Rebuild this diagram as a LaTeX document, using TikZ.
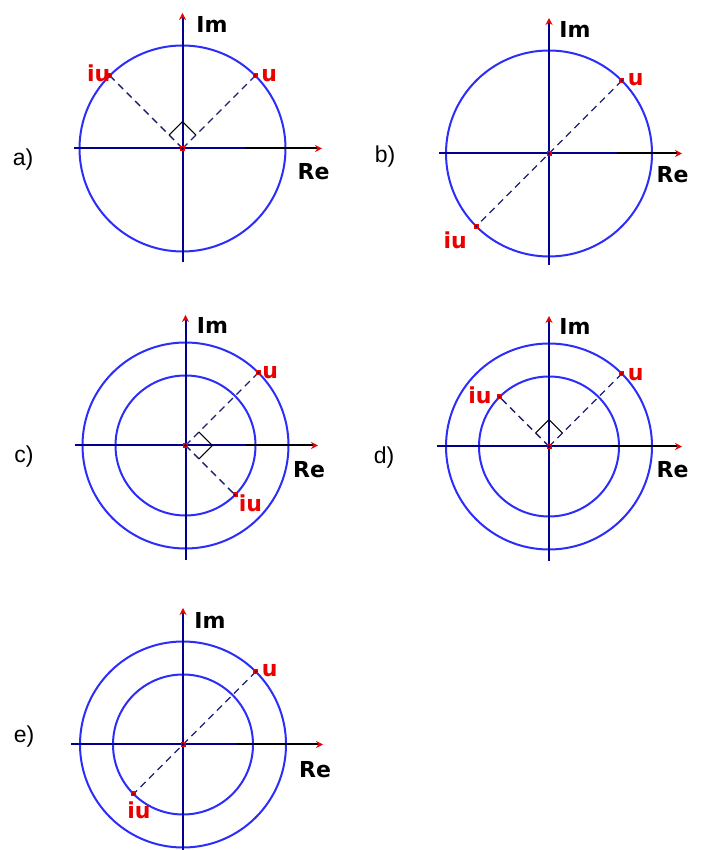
\documentclass[tikz,border=0pt]{standalone}
\usepackage{fontspec}
\setmainfont{Liberation Sans}
\newfontfamily\lblfont{DejaVu Sans}
\usetikzlibrary{arrows.meta}
\definecolor{axnavy}{RGB}{0,0,140}
\definecolor{cblue}{RGB}{45,45,250}
\definecolor{lred}{RGB}{235,0,0}
\definecolor{vecnavy}{RGB}{30,30,110}
\tikzset{
  ring/.style={draw=cblue, line width=2pt},
  axisn/.style={draw=axnavy, line width=2pt},
  axisk/.style={draw=black, line width=2pt, -{Stealth[length=7pt,width=7pt,color=lred]}},
  axisv/.style={draw=axnavy, line width=2pt, -{Stealth[length=7pt,width=7pt,color=lred]}},
  vec/.style={draw=vecnavy, line width=1.4pt, dash pattern=on 7pt off 5pt},
  rightang/.style={draw=black, line width=1.2pt},
  ptbox/.style={rectangle, fill=lred, minimum size=5pt, inner sep=0pt,
    path picture={\fill[axnavy] (path picture bounding box.center) circle (1.1pt);}},
  ctr/.style={rectangle, fill=lred, minimum size=5pt, inner sep=0pt,
    path picture={\fill[axnavy] (path picture bounding box.center) circle (1.7pt);}},
  axlbl/.style={text=black, inner sep=0pt, font={\lblfont\bfseries\fontsize{22}{22}\selectfont}},
  ptlbl/.style={text=lred, inner sep=0pt, font={\lblfont\bfseries\fontsize{22}{22}\selectfont}},
  panlbl/.style={text=black, inner sep=0pt, font={\fontsize{23}{23}\selectfont}}
}
\begin{document}
\begin{tikzpicture}[x=1pt,y=1pt]
\useasboundingbox (0,0) rectangle (703,850);
\fill[white] (0,0) rectangle (703,850);

% ---------- a) ----------
\begin{scope}[shift={(182.5,701.5)}]
  \coordinate (aO) at (0,0);
  \coordinate (aU) at (45:103);
  \coordinate (aIU) at (135:103);
  \draw[ring] (aO) circle[radius=103];
  \draw[axisn] (-108.5,0) -- (62,0);
  \draw[axisk] (62,0) -- (139.5,0);
  \draw[axisv] (0,-113.5) -- (0,135.5);
  \draw[vec] (aO) -- (aU);
  \draw[vec] (aO) -- (aIU);
  \draw[rightang] (45:19) -- (90:26.87) -- (135:19);
  \node[ctr] (aOm) at (aO) {};
  \node[ptbox] (aUm) at (aU) {};
  \node[ptbox] (aIUm) at (aIU) {};
  \node[axlbl] (aIm) at (29.5,124) {Im};
  \node[axlbl] (aRe) at (131,-23) {Re};
  \node[ptlbl] (aUl) at (86.8,73.3) {u};
  \node[ptlbl] (aIUl) at (-83.8,75.3) {iu};
\end{scope}
\node[panlbl] (aL) at (23,690) {a)};

% ---------- b) ----------
\begin{scope}[shift={(549,696.5)}]
  \coordinate (bO) at (0,0);
  \coordinate (bU) at (45:103);
  \coordinate (bIU) at (225:103);
  \draw[ring] (bO) circle[radius=103];
  \draw[axisn] (-110,0) -- (68,0);
  \draw[axisk] (68,0) -- (133,0);
  \draw[axisv] (0,-112) -- (0,135.5);
  \draw[vec] (bU) -- (bIU);
  \node[ctr] (bOm) at (bO) {};
  \node[ptbox] (bUm) at (bU) {};
  \node[ptbox] (bIUm) at (bIU) {};
  \node[axlbl] (bIm) at (26,124) {Im};
  \node[axlbl] (bRe) at (123.5,-21.5) {Re};
  \node[ptlbl] (bUl) at (86.8,73.8) {u};
  \node[ptlbl] (bIUl) at (-93.8,-87.3) {iu};
\end{scope}
\node[panlbl] (bL) at (385,693) {b)};

% ---------- c) ----------
\begin{scope}[shift={(185.5,404.5)}]
  \coordinate (cO) at (0,0);
  \coordinate (cU) at (45:103);
  \coordinate (cIU) at (-45:70);
  \draw[ring] (cO) circle[radius=103];
  \draw[ring] (cO) circle[radius=70];
  \draw[axisn] (-110.5,0) -- (60,0);
  \draw[axisk] (60,0) -- (132.5,0);
  \draw[axisv] (0,-115) -- (0,130.5);
  \draw[vec] (cO) -- (cU);
  \draw[vec] (cO) -- (cIU);
  \draw[rightang] (45:19) -- (0:26.87) -- (-45:19);
  \node[ctr] (cOm) at (cO) {};
  \node[ptbox] (cUm) at (cU) {};
  \node[ptbox] (cIUm) at (cIU) {};
  \node[axlbl] (cIm) at (27,120.5) {Im};
  \node[axlbl] (cRe) at (123.5,-24.5) {Re};
  \node[ptlbl] (cUl) at (84.8,72.8) {u};
  \node[ptlbl] (cIUl) at (65,-58) {iu};
\end{scope}
\node[panlbl] (cL) at (24,393) {c)};

% ---------- d) ----------
\begin{scope}[shift={(549,403.5)}]
  \coordinate (dO) at (0,0);
  \coordinate (dU) at (45:103);
  \coordinate (dIU) at (135:70);
  \draw[ring] (dO) circle[radius=103];
  \draw[ring] (dO) circle[radius=70];
  \draw[axisn] (-112,0) -- (62,0);
  \draw[axisk] (62,0) -- (133,0);
  \draw[axisv] (0,-115) -- (0,130.5);
  \draw[vec] (dO) -- (dU);
  \draw[vec] (dO) -- (dIU);
  \draw[rightang] (45:19) -- (90:26.87) -- (135:19);
  \node[ctr] (dOm) at (dO) {};
  \node[ptbox] (dUm) at (dU) {};
  \node[ptbox] (dIUm) at (dIU) {};
  \node[axlbl] (dIm) at (26,120) {Im};
  \node[axlbl] (dRe) at (123.5,-23.5) {Re};
  \node[ptlbl] (dUl) at (86.8,71.8) {u};
  \node[ptlbl] (dIUl) at (-69,51) {iu};
\end{scope}
\node[panlbl] (dL) at (384,392) {d)};

% ---------- e) ----------
\begin{scope}[shift={(183,105.5)}]
  \coordinate (eO) at (0,0);
  \coordinate (eU) at (45:103);
  \coordinate (eIU) at (225:70);
  \draw[ring] (eO) circle[radius=103];
  \draw[ring] (eO) circle[radius=70];
  \draw[axisn] (-112,0) -- (54,0);
  \draw[axisk] (54,0) -- (140,0);
  \draw[axisv] (0,-105.5) -- (0,136.5);
  \draw[vec] (eU) -- (eIU);
  \node[ctr] (eOm) at (eO) {};
  \node[ptbox] (eUm) at (eU) {};
  \node[ptbox] (eIUm) at (eIU) {};
  \node[axlbl] (eIm) at (27,124.5) {Im};
  \node[axlbl] (eRe) at (132,-25) {Re};
  \node[ptlbl] (eUl) at (86.8,73.8) {u};
  \node[ptlbl] (eIUl) at (-44,-65.5) {iu};
\end{scope}
\node[panlbl] (eL) at (24,113) {e)};
\end{tikzpicture}
\end{document}
